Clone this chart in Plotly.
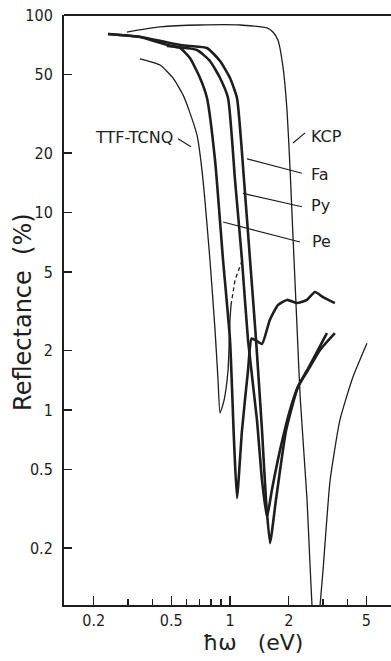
import numpy as np
import plotly.graph_objects as go

# ---------------- data (photon energy in eV, reflectance in %) ----------------
kcp_E = [0.296, 0.438, 0.70, 1.125, 1.548, 1.66, 1.76, 1.87, 1.96, 2.03, 2.10, 2.21,
         2.29, 2.48, 2.57, 2.63, 2.75, 2.89, 3.0, 3.26, 3.66, 4.27, 5.04]
kcp_R = [82, 87, 89, 89, 86, 82, 74.7, 54.5, 33.0, 17.0, 7.88, 2.54,
         1.16, 0.36, 0.168, 0.105, 0.05, 0.1, 0.155, 0.44, 0.89, 1.47, 2.18]

ttf_E = [0.345, 0.438, 0.510, 0.574, 0.616, 0.677, 0.718, 0.789, 0.838, 0.868,
         0.889, 0.932, 0.977, 1.0, 1.012]
ttf_R = [60.0, 55.8, 48.0, 39.4, 33.0, 24.7, 16.4, 5.75, 2.54, 1.42,
         0.966, 1.12, 1.59, 2.86, 3.4]
ttf_dash_E = [1.012, 1.061, 1.166]
ttf_dash_R = [3.4, 4.55, 5.88]

pe_E = [0.237, 0.345, 0.475, 0.554, 0.623, 0.702, 0.762, 0.838, 0.921, 1.0, 1.048,
        1.086, 1.152, 1.237, 1.29, 1.36, 1.459, 1.60, 1.76, 1.96, 2.21, 2.48, 2.73, 3.0, 3.45]
pe_R = [80.2, 77.4, 70.5, 68.1, 60.5, 48.0, 38.0, 18.4, 5.75, 2.26, 0.705,
        0.358, 0.79, 1.59, 2.30, 2.25, 2.16, 2.86, 3.40, 3.61, 3.48, 3.61, 3.96, 3.73, 3.48]

py_E = [0.475, 0.677, 0.789, 0.889, 0.977, 1.061, 1.152, 1.237, 1.375, 1.459, 1.548,
        1.64, 1.805, 2.03, 2.23, 2.57, 3.14]
py_R = [69.7, 66.5, 58.5, 48.0, 38.0, 14.6, 5.75, 2.26, 0.89, 0.44, 0.287,
        0.394, 0.627, 1.0, 1.31, 1.69, 2.45]

fa_E = [0.237, 0.345, 0.554, 0.623, 0.762, 0.889, 1.0, 1.086, 1.18, 1.267, 1.36,
        1.459, 1.53, 1.604, 1.72, 1.94, 2.23, 2.51, 2.89, 3.45]
fa_R = [80.2, 77.6, 70.5, 69.7, 68.1, 58.5, 48.0, 38.0, 14.6, 5.75, 2.26,
        0.79, 0.35, 0.212, 0.35, 0.79, 1.31, 1.59, 2.01, 2.45]

# labels: text, (E, R) of text anchor, leader line end points
labels = ["TTF-TCNQ", "KCP", "Fa", "Py", "Pe"]
label_E = [0.535, 2.482, 2.482, 2.482, 2.50]
label_R = [24.1, 24.4, 15.5, 10.8, 7.17]
label_anchor = ["right", "left", "left", "left", "left"]
leader_E = [(0.541, 0.631), (2.105, 2.425), (1.222, 2.338), (1.166, 2.338), (0.921, 2.286)]
leader_R = [(23.6, 21.5), (22.5, 25.3), (18.7, 15.8), (12.5, 10.7), (8.95, 7.09)]

x_tickvals = [0.2, 0.5, 1, 2, 5]
x_ticktext = ["0.2", "0.5", "1", "2", "5"]
x_minor = [0.3, 0.4, 0.6, 0.7, 0.8, 0.9, 3, 4]
y_tickvals = [0.2, 0.5, 1, 2, 5, 10, 20, 50, 100]
y_ticktext = ["0.2", "0.5", "1", "2", "5", "10", "20", "50", "100"]

# ---------------- figure ----------------
INK = "#1e1e1e"
TICKFONT = "DejaVu Sans Condensed, DejaVu Sans"
FONT = "DejaVu Sans"

fig = go.Figure()
thin = dict(color=INK, width=1.3, shape="spline", smoothing=0.5)
thick = dict(color=INK, width=2.6, shape="spline", smoothing=0.5)

fig.add_trace(go.Scatter(x=kcp_E, y=kcp_R, mode="lines", line=thin))
fig.add_trace(go.Scatter(x=ttf_E, y=ttf_R, mode="lines", line=thin))
fig.add_trace(go.Scatter(x=ttf_dash_E, y=ttf_dash_R, mode="lines",
                         line=dict(color=INK, width=1.3, dash="4px,3px")))
fig.add_trace(go.Scatter(x=pe_E, y=pe_R, mode="lines", line=thick))
fig.add_trace(go.Scatter(x=py_E, y=py_R, mode="lines", line=thick))
fig.add_trace(go.Scatter(x=fa_E, y=fa_R, mode="lines", line=thick))

for (e0, e1), (r0, r1) in zip(leader_E, leader_R):
    fig.add_trace(go.Scatter(x=[e0, e1], y=[r0, r1], mode="lines",
                             line=dict(color=INK, width=1.2)))

for t, e, r, a in zip(labels, label_E, label_R, label_anchor):
    fig.add_annotation(x=np.log10(e), y=np.log10(r), text=t, showarrow=False,
                       xanchor=a, yanchor="middle", xshift=2 if a == "left" else -2,
                       font=dict(family=FONT, size=16, color=INK))

fig.update_layout(
    width=391, height=661, autosize=False,
    margin=dict(l=64, r=0, t=15, b=56, pad=0),
    paper_bgcolor="white", plot_bgcolor="white",
    showlegend=False, hovermode=False,
    font=dict(family=FONT, size=16, color=INK),
)

fig.update_xaxes(
    type="log", range=[-0.8513, 0.8256], automargin=False,
    showgrid=False, zeroline=False,
    showline=True, linecolor=INK, linewidth=2,
    ticks="inside", ticklen=9, tickwidth=1.5, tickcolor=INK,
    tickvals=x_tickvals, ticktext=x_ticktext, ticklabeloverflow="allow",
    tickfont=dict(family=TICKFONT, size=16, color=INK),
    minor=dict(tickvals=x_minor, ticks="inside", ticklen=6, tickwidth=1.3, tickcolor=INK,
               showgrid=False),
)
fig.update_yaxes(
    type="log", range=[-0.987, 2.0], automargin=False,
    showgrid=False, zeroline=False,
    showline=True, linecolor=INK, linewidth=2,
    ticks="inside", ticklen=8, tickwidth=1.5, tickcolor=INK,
    tickvals=y_tickvals, ticktext=y_ticktext, ticklabeloverflow="allow",
    tickfont=dict(family=TICKFONT, size=16, color=INK),
    ticklabelstandoff=6,
)

# top frame line
fig.add_shape(type="line", xref="paper", yref="paper", x0=0, x1=1, y0=1, y1=1,
              line=dict(color=INK, width=2))

# axis titles
fig.add_annotation(xref="paper", yref="paper", x=-0.125, y=0.497, text="Reflectance  (%)",
                   textangle=-90, showarrow=False, xanchor="center", yanchor="middle",
                   font=dict(family=FONT, size=24, color=INK))
fig.add_annotation(xref="paper", yref="paper", x=0.578, y=-0.064, text="ħω   (eV)",
                   showarrow=False, xanchor="center", yanchor="middle",
                   font=dict(family=FONT, size=22, color=INK))

# remove the default 8px page margin so the figure fills the window exactly
fig.write_html("out.html", config={"displayModeBar": False, "staticPlot": True},
               post_script="document.body.style.margin='0';document.body.style.overflow='hidden';")
